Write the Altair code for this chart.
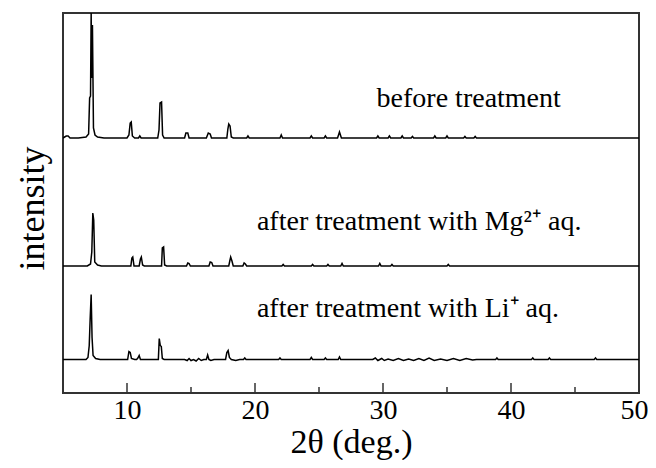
import altair as alt
import pandas as pd

# ---- data (2θ in degrees, intensity in arbitrary units above each baseline) ----
before_pts = [(5.0,0),(5.25,2),(5.4,2),(5.55,0),(6.2,0),(6.8,1),(7.0,4),(7.08,40),(7.15,42),(7.2,125),
              (7.25,60),(7.3,113),(7.38,10),(7.5,3),(7.7,1),(8.2,0),(10.0,0),(10.15,3),(10.25,15),(10.33,16),
              (10.42,2),(10.6,0),(10.9,0),(11.0,2),(11.1,0),(12.4,0),(12.5,8),(12.58,35),(12.7,36),(12.78,3),
              (12.9,0),(14.5,0),(14.6,5),(14.75,5),(14.85,0),(16.2,0),(16.35,5),(16.5,4),(16.6,0),(17.8,0),
              (17.88,9),(17.95,14),(18.05,12),(18.15,1),(18.3,0),(19.35,0),(19.45,2),(19.55,0),(21.95,0),
              (22.05,3),(22.15,0),(24.3,0),(24.4,2),(24.5,0),(25.4,0),(25.5,2),(25.6,0),(26.45,0),(26.6,6),
              (26.75,0),(29.5,0),(29.6,2),(29.7,0),(30.4,0),(30.5,2),(30.6,0),(31.4,0),(31.5,2),(31.6,0),
              (32.2,0),(32.3,1.5),(32.4,0),(33.95,0),(34.05,2),(34.15,0),(34.9,0),(35.0,2),(35.1,0),
              (36.3,0),(36.4,1.5),(36.5,0),(37.1,0),(37.2,1.5),(37.3,0),(50.0,0)]

mg_pts = [(5.0,0),(6.9,0),(7.15,2),(7.25,14),(7.33,53),(7.4,46),(7.48,4),(7.7,1),(8.0,0),(10.3,0),
          (10.38,8),(10.45,9),(10.55,0),(10.95,0),(11.05,7),(11.12,9),(11.22,1),(11.35,0),(12.7,0),
          (12.76,18),(12.86,19),(12.94,1),(13.1,0),(14.65,0),(14.75,3),(14.85,2.5),(14.95,0),(16.4,0),
          (16.5,4),(16.62,3.5),(16.72,0),(17.95,0),(18.03,5),(18.1,9),(18.2,5),(18.3,0),(19.05,0),
          (19.15,3),(19.25,2),(19.35,0),(22.1,0),(22.2,1.5),(22.3,0),(24.4,0),(24.5,1.5),(24.6,0),
          (25.6,0),(25.7,1.5),(25.8,0),(26.7,0),(26.8,2.5),(26.9,0),(29.65,0),(29.75,2.5),(29.85,0),
          (30.6,0),(30.7,1.5),(30.8,0),(35.0,0),(35.1,1.5),(35.2,0),(50.0,0)]

li_pts = [(5.0,0),(6.8,0),(6.95,2),(7.05,14),(7.12,40),(7.2,65),(7.27,22),(7.35,4),(7.55,1),(7.9,0),
          (10.05,0),(10.15,8),(10.25,7),(10.35,1),(10.6,0),(10.75,0),(10.85,1.5),(10.95,4),(11.05,0),
          (12.45,0),(12.52,21),(12.6,14),(12.68,13),(12.76,1),(12.9,0),(14.5,0),(14.7,-1),(14.85,1),
          (15.0,-1),(15.2,0),(15.4,-1.5),(15.6,1),(15.8,-1),(16.0,0),(16.2,0),(16.3,4.5),(16.4,0),
          (16.55,-1),(16.8,0),(17.7,0),(17.8,7),(17.9,9),(18.0,2),(18.15,0),(18.5,-1),(18.8,0),
          (19.1,0),(19.2,1.5),(19.3,0),(21.85,0),(21.95,1.5),(22.05,0),(24.3,0),(24.4,2),(24.5,0),
          (25.4,0),(25.5,1.5),(25.6,0),(26.5,0),(26.6,2.5),(26.7,0),(29.2,0),(29.4,1.5),(29.6,-1),
          (29.9,1),(30.1,-1),(30.4,0.5),(30.8,-1),(31.2,1),(31.6,-1),(32.0,0.5),(32.4,-1),(32.8,1),
          (33.2,-1),(33.6,1.5),(34.0,-1),(34.5,0.5),(35.0,-1),(35.5,1),(36.0,-1),(36.5,1),(37.0,-0.5),
          (37.3,0),(38.8,0),(38.9,1.5),(39.0,0),(41.6,0),(41.7,1.5),(41.8,0),(42.9,0),(43.0,1.5),
          (43.1,0),(46.5,0),(46.6,1.5),(46.7,0),(50.0,0)]

series_names = ["before", "Mg", "Li"]
series_offsets = [255, 127, 33.5]          # vertical stacking offset of each pattern

label_texts = ["before treatment", "after treatment with Mg\u00b2\u207a aq.", "after treatment with Li\u207a aq."]
label_x = [29.5, 20.15, 20.15]
label_y = [286.3, 163, 76.3]

x_label_values = [10, 20, 30, 40, 50]
major_ticks = [10, 20, 30, 40]
minor_ticks = [15, 25, 35, 45]

# ---- tables ----
rows = []
for name, off, pts in zip(series_names, series_offsets, [before_pts, mg_pts, li_pts]):
    for i, (tx, ty) in enumerate(pts):
        rows.append({"series": name, "order": i, "theta": tx, "intensity": ty + off})
df = pd.DataFrame(rows)
labels_df = pd.DataFrame({"text": label_texts, "theta": label_x, "intensity": label_y})
major_df = pd.DataFrame({"theta": major_ticks})
minor_df = pd.DataFrame({"theta": minor_ticks})

FONT = "Liberation Serif"
xscale = alt.Scale(domain=[5, 50], nice=False, zero=False)
yscale = alt.Scale(domain=[0, 380], nice=False, zero=False)

x_axis = alt.Axis(title="2\u03b8 (deg.)", values=x_label_values, ticks=False, domain=False,
                  grid=False, labelFont=FONT, labelFontSize=28, labelColor="black",
                  labelPadding=3, labelFlush=True, labelFlushOffset=9, labelOverlap=False,
                  format="d", titleFont=FONT, titleFontSize=34, titleFontWeight="normal",
                  titleColor="black", titleBaseline="alphabetic", titleY=59)
y_axis = alt.Axis(title="intensity", labels=False, ticks=False, domain=False, grid=False,
                  titleFont=FONT, titleFontSize=36, titleFontWeight="normal",
                  titleColor="black", titleBaseline="alphabetic", titleAngle=270,
                  titleX=-20, titleY=195)

X = alt.X("theta:Q", scale=xscale, axis=x_axis)
Y = alt.Y("intensity:Q", scale=yscale, axis=y_axis)

lines = alt.Chart(df).mark_line(color="black", strokeWidth=1.5, clip=True).encode(
    x=X, y=Y, detail="series:N", order="order:Q",
)

texts = alt.Chart(labels_df).mark_text(font=FONT, fontSize=28, color="black", align="left",
                                       baseline="alphabetic").encode(
    x=X, y=Y, text="text:N",
)

major = alt.Chart(major_df).mark_rule(color="#333333", strokeWidth=1.5).encode(
    x=X, y=alt.value(380), y2=alt.value(370),
)
minor = alt.Chart(minor_df).mark_rule(color="#333333", strokeWidth=1.5).encode(
    x=X, y=alt.value(380), y2=alt.value(374),
)

chart = alt.layer(lines, texts, major, minor).properties(
    width=576, height=380,
    autosize=alt.AutoSizeParams(type="none"),
    padding={"left": 55, "top": 5, "right": 9, "bottom": 67},
).configure(background="white").configure_view(stroke="#333333", strokeWidth=2)

chart.save("out.html", embed_options={"renderer": "svg", "actions": False})
